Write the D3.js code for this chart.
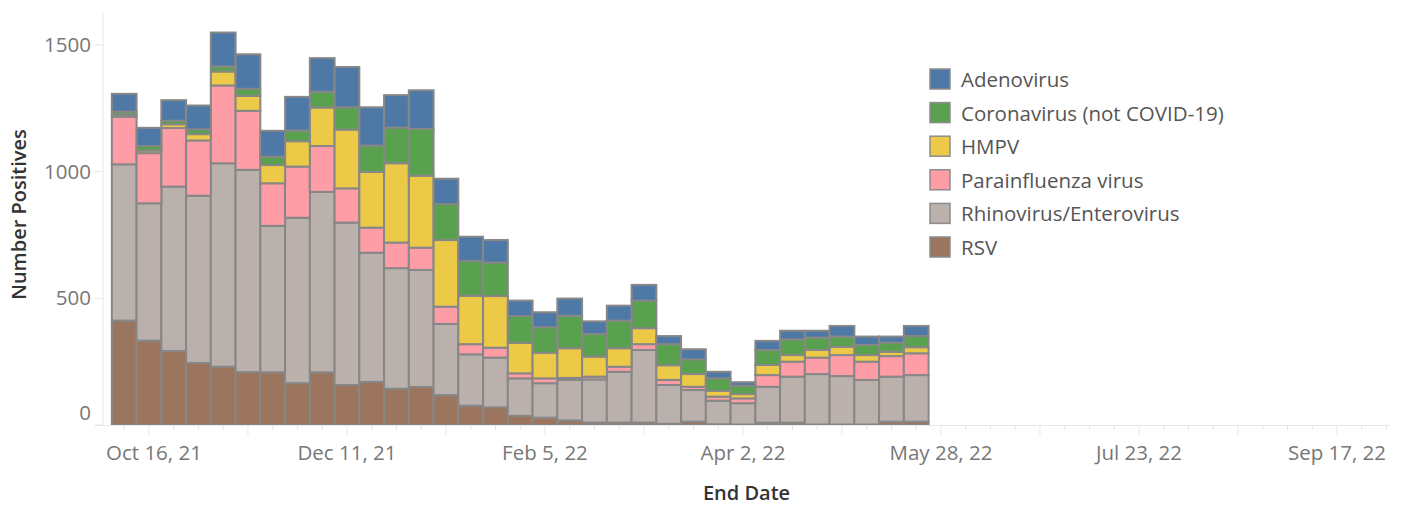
<!DOCTYPE html>
<html>
<head>
<meta charset="utf-8">
<script src="https://cdn.jsdelivr.net/npm/d3@7"></script>
<style>
  html, body { margin: 0; padding: 0; background: #fff; }
  svg { display: block; font-family: "Open Sans", sans-serif; }
</style>
</head>
<body>
<svg id="chart" width="1404" height="506"></svg>
<script>
// ---- data ----
const weeks = ["2021-10-09","2021-10-16","2021-10-23","2021-10-30","2021-11-06","2021-11-13","2021-11-20","2021-11-27",
  "2021-12-04","2021-12-11","2021-12-18","2021-12-25","2022-01-01","2022-01-08","2022-01-15","2022-01-22","2022-01-29",
  "2022-02-05","2022-02-12","2022-02-19","2022-02-26","2022-03-05","2022-03-12","2022-03-19","2022-03-26","2022-04-02",
  "2022-04-09","2022-04-16","2022-04-23","2022-04-30","2022-05-07","2022-05-14","2022-05-21"];
const seriesNames = ["RSV","Rhinovirus/Enterovirus","Parainfluenza virus","HMPV","Coronavirus (not COVID-19)","Adenovirus"];
const legendOrder = ["Adenovirus","Coronavirus (not COVID-19)","HMPV","Parainfluenza virus","Rhinovirus/Enterovirus","RSV"];
const rsv    = [412,333,292,245,230,209,208,165,208,158,170,143,150,118,76,70,36,29,18,10,10,10,5,13,3,2,9,9,2,2,2,13,13];
const rhino  = [617,542,649,660,803,798,578,653,712,641,510,476,462,281,203,196,148,136,160,170,200,286,153,125,93,84,142,182,199,191,176,178,184];
const para   = [188,198,231,218,307,233,168,202,181,135,99,101,88,68,40,39,20,19,8,11,20,23,20,13,16,19,46,59,65,83,72,81,86];
const hmpv   = [8,10,15,25,55,59,72,100,152,232,220,313,284,263,191,204,120,101,117,79,73,63,58,50,23,17,40,26,30,33,26,17,24];
const corona = [12,18,14,19,20,28,33,42,62,88,104,141,185,142,137,132,106,101,128,89,109,109,83,58,49,33,59,62,49,40,40,36,44];
const adeno  = [70,72,81,94,134,136,102,133,133,159,151,128,152,100,96,89,61,59,68,50,59,62,32,40,26,14,36,34,27,42,33,24,40];
const yTicks = [0, 500, 1000, 1500];
const xDomain = ["2021-10-03", "2022-10-02"];
const colors = ["#9c755f","#bab0ac","#ff9da7","#edc948","#59a14f","#4e79a7"];

// ---- build table ----
const parse = d3.utcParse("%Y-%m-%d");
const valuesBySeries = [rsv, rhino, para, hmpv, corona, adeno];
const table = weeks.map((w, i) => {
  const row = { date: parse(w) };
  seriesNames.forEach((s, j) => row[s] = valuesBySeries[j][i]);
  return row;
});
const color = d3.scaleOrdinal(seriesNames, colors);

// ---- layout ----
const svg = d3.select("#chart");
const pLeft = 103, pRight = 1390, pTop = 12, pBottom = 425;

const x = d3.scaleUtc().domain(xDomain.map(parse)).range([pLeft, pRight]);
const y = d3.scaleLinear().domain([0, 1630]).range([pBottom, pTop]);

// axis lines
svg.append("line").attr("x1", pLeft).attr("x2", pLeft).attr("y1", pTop).attr("y2", pBottom)
  .attr("stroke", "#e6e6e6").attr("stroke-width", 1);

// y ticks
const yg = svg.append("g");
yTicks.forEach(t => {
  yg.append("line").attr("x1", pLeft - 8).attr("x2", pLeft).attr("y1", y(t)).attr("y2", y(t))
    .attr("stroke", "#e6e6e6").attr("stroke-width", 1);
  yg.append("text").attr("x", pLeft - 12).attr("y", y(t) - (t === 0 ? 12 : 0))
    .attr("dy", "0.35em").attr("text-anchor", "end")
    .attr("font-size", 20.5).attr("fill", "#777").text(t);
});

// stacked bars
const stack = d3.stack().keys(seriesNames)(table);
const halfWeek = 3.5 * 24 * 3600 * 1000;
const layers = svg.append("g").selectAll("g").data(stack).join("g")
  .attr("fill", d => color(d.key));
layers.selectAll("rect").data(d => d).join("rect")
  .attr("x", d => x(new Date(+d.data.date - halfWeek)))
  .attr("width", d => x(new Date(+d.data.date + halfWeek)) - x(new Date(+d.data.date - halfWeek)))
  .attr("y", d => y(d[1]))
  .attr("height", d => y(d[0]) - y(d[1]))
  .attr("stroke", "#878787").attr("stroke-width", 2);

// x axis
svg.append("line").attr("x1", pLeft - 8).attr("x2", pRight).attr("y1", pBottom + 0.5).attr("y2", pBottom + 0.5)
  .attr("stroke", "#e6e6e6").attr("stroke-width", 1);
const tickDates = d3.utcSaturday.range(parse("2021-10-09"), d3.utcDay.offset(parse(xDomain[1]), 1));
const ref = parse("2021-10-16");
const xg = svg.append("g");
tickDates.forEach(d => {
  const wk = Math.round((d - ref) / (7 * 86400000));
  const major = ((wk % 4) + 4) % 4 === 0;
  xg.append("line").attr("x1", x(d)).attr("x2", x(d)).attr("y1", pBottom).attr("y2", pBottom + (major ? 10 : 5))
    .attr("stroke", "#e6e6e6").attr("stroke-width", 1);
  if (((wk % 8) + 8) % 8 === 0) {
    const t = xg.append("text").attr("y", 460).attr("text-anchor", "middle")
      .attr("font-size", 20.5).attr("fill", "#777").text(d3.utcFormat("%b %-d, %y")(d));
    const w = t.node().getComputedTextLength();
    let cx = x(d);
    cx = Math.max(cx, pLeft + 3 + w / 2);
    cx = Math.min(cx, pRight - w / 2 + 2);
    t.attr("x", cx);
  }
});

// titles
svg.append("text").attr("x", (pLeft + pRight) / 2).attr("y", 500).attr("text-anchor", "middle")
  .attr("font-size", 20).attr("font-weight", 600).attr("fill", "#333").text("End Date");
svg.append("text").attr("transform", `translate(26, ${(pTop + pBottom) / 2 - 4}) rotate(-90)`)
  .attr("text-anchor", "middle").attr("font-size", 20).attr("font-weight", 600).attr("fill", "#333")
  .text("Number Positives");

// legend
const lg = svg.append("g").attr("transform", "translate(930, 69)");
legendOrder.forEach((s, i) => {
  const g = lg.append("g").attr("transform", `translate(0, ${i * 33.6})`);
  g.append("rect").attr("width", 20).attr("height", 20).attr("fill", color(s))
    .attr("stroke", "#8c8c8c").attr("stroke-width", 1.5);
  g.append("text").attr("x", 31).attr("y", 18).attr("font-size", 20.5).attr("fill", "#555").text(s);
});
</script>
</body>
</html>
